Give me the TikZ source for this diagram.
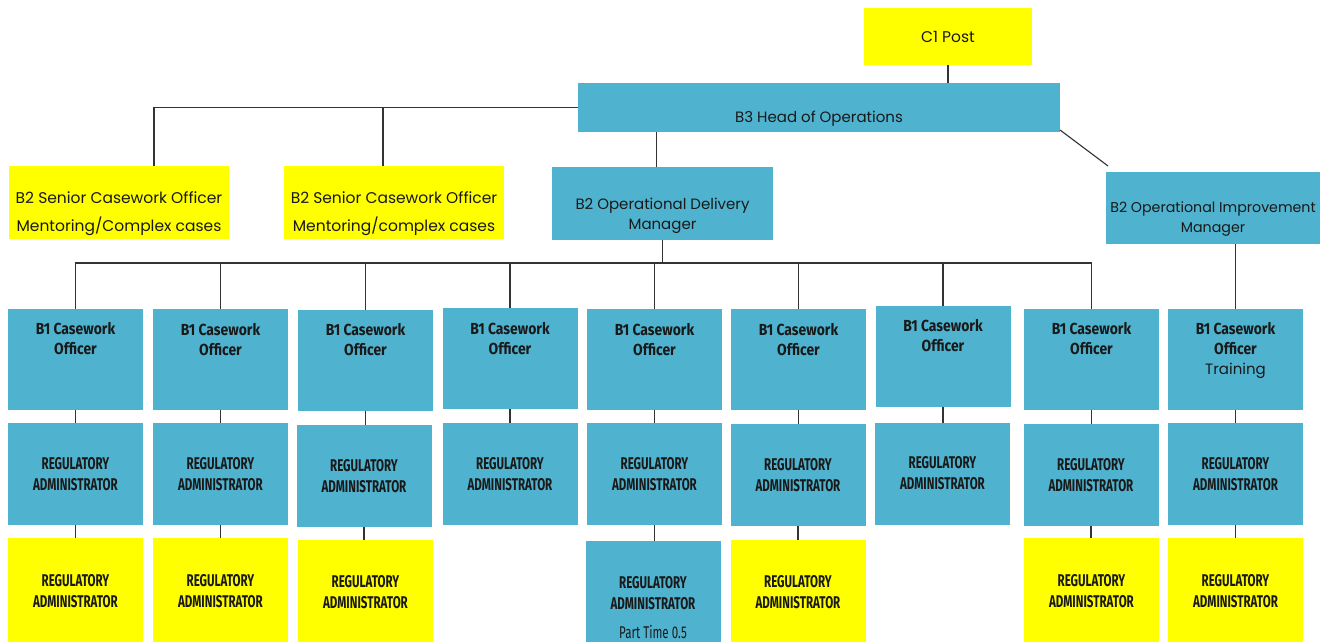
\documentclass[tikz,border=0pt]{standalone}
\usepackage{fontspec}
\setmainfont{Poppins}
\newfontfamily\narrowfont[FakeStretch=0.68]{Fira Sans}
\newfontfamily\cwfont[FakeStretch=0.87]{Fira Sans}
\usepackage{tikz}

\definecolor{boxblue}{HTML}{4FB3CF}
\definecolor{boxyellow}{HTML}{FFFF00}

% text set from the top of a box: width, height, gap, lines
\newcommand{\toptext}[4]{\parbox[c][#2][t]{#1}{\centering\vspace*{#3}#4\par}}

\tikzset{
	post/.style={inner sep=0pt, outer sep=0pt, text=black!90},
	bluepost/.style={post, fill=boxblue},
	yellowpost/.style={post, fill=boxyellow},
	lead/.style={font=\fontsize{15.5}{28}\selectfont},
	leadtwo/.style={font=\fontsize{15}{20}\selectfont},
	officer/.style={bluepost, font=\cwfont\bfseries\fontsize{16}{20}\selectfont},
	admin/.style={minimum width=135pt, minimum height=102pt, align=center, font=\narrowfont\bfseries\fontsize{17}{21}\selectfont},
	wire/.style={line width=1.1pt, draw=black!80},
}

\begin{document}
\begin{tikzpicture}[x=1pt, y=-1pt]
	\useasboundingbox (0,0) rectangle (1330,641);
	\fill[white] (0,0) rectangle (1330,641);
	
	%top posts
	\node[yellowpost, minimum width=168pt, minimum height=57pt, lead] (c1) at (948,36.5) {C1 Post};
	\node[bluepost, leadtwo] (hoo) at (819,107.5) {\toptext{482pt}{49pt}{28pt}{B3 Head of Operations}};
	
	%B2 posts
	\node[yellowpost, lead] (sco1) at (119,202.5) {\toptext{220pt}{73pt}{26pt}{B2 Senior Casework Officer\\Mentoring/Complex cases}};
	\node[yellowpost, lead] (sco2) at (394,202.5) {\toptext{220pt}{73pt}{26pt}{B2 Senior Casework Officer\\Mentoring/complex cases}};
	\node[bluepost, leadtwo] (odm) at (662.5,203.5) {\toptext{221pt}{73pt}{31pt}{B2 Operational Delivery\\Manager}};
	\node[bluepost, leadtwo, font=\fontsize{14.2}{20}\selectfont] (oim) at (1213,208) {\toptext{214pt}{72pt}{30pt}{B2 Operational Improvement\\Manager}};
	
	%B1 officers
	\node[officer] (cw1) at (75.5,359)  {\toptext{135pt}{101pt}{14pt}{B1 Casework\\Officer}};
	\node[officer] (cw2) at (220.5,359.5) {\toptext{135pt}{101pt}{14pt}{B1 Casework\\Officer}};
	\node[officer] (cw3) at (365.5,360) {\toptext{135pt}{101pt}{14pt}{B1 Casework\\Officer}};
	\node[officer] (cw4) at (510,358.5) {\toptext{135pt}{101pt}{14pt}{B1 Casework\\Officer}};
	\node[officer] (cw5) at (654.5,359.5) {\toptext{135pt}{101pt}{14pt}{B1 Casework\\Officer}};
	\node[officer] (cw6) at (798.5,359.5) {\toptext{135pt}{101pt}{14pt}{B1 Casework\\Officer}};
	\node[officer] (cw7) at (943,356)   {\toptext{135pt}{101pt}{14pt}{B1 Casework\\Officer}};
	\node[officer] (cw8) at (1091.5,359) {\toptext{135pt}{101pt}{14pt}{B1 Casework\\Officer}};
	\node[officer] (cw9) at (1235.5,359) {\toptext{135pt}{101pt}{14pt}{B1 Casework\\Officer\\{\rmfamily\mdseries\fontsize{15}{20}\selectfont Training}}};
	
	%first row of administrators
	\node[bluepost, admin] (ra1) at (75.5,474)  {REGULATORY\\ADMINISTRATOR};
	\node[bluepost, admin] (ra2) at (220.5,474) {REGULATORY\\ADMINISTRATOR};
	\node[bluepost, admin] (ra3) at (364,476)   {REGULATORY\\ADMINISTRATOR};
	\node[bluepost, admin] (ra4) at (510,474)   {REGULATORY\\ADMINISTRATOR};
	\node[bluepost, admin] (ra5) at (654.5,474) {REGULATORY\\ADMINISTRATOR};
	\node[bluepost, admin] (ra6) at (798,475)   {REGULATORY\\ADMINISTRATOR};
	\node[bluepost, admin] (ra7) at (942.5,473.5) {REGULATORY\\ADMINISTRATOR};
	\node[bluepost, admin] (ra8) at (1091,475)  {REGULATORY\\ADMINISTRATOR};
	\node[bluepost, admin] (ra9) at (1235.5,474) {REGULATORY\\ADMINISTRATOR};
	
	%second row of administrators
	\node[yellowpost, admin, minimum height=107pt] (rb1) at (75.5,591.5)  {REGULATORY\\ADMINISTRATOR};
	\node[yellowpost, admin, minimum height=107pt] (rb2) at (220.5,591.5) {REGULATORY\\ADMINISTRATOR};
	\node[yellowpost, admin, minimum height=105pt] (rb3) at (365.5,592.5) {REGULATORY\\ADMINISTRATOR};
	\node[bluepost, admin] (rb5) at (653,592) {\toptext{134pt}{102pt}{35pt}{REGULATORY\\ADMINISTRATOR\\[8pt]{\mdseries Part Time 0.5}}};
	\node[yellowpost, admin, minimum height=105pt] (rb6) at (798,592.5)   {REGULATORY\\ADMINISTRATOR};
	\node[yellowpost, admin, minimum height=107pt] (rb8) at (1091.5,591.5) {REGULATORY\\ADMINISTRATOR};
	\node[yellowpost, admin, minimum height=107pt] (rb9) at (1235.5,591.5) {REGULATORY\\ADMINISTRATOR};
	
	%lines
	\draw[wire] (c1.south) -- (c1.south |- hoo.north);							%c1--hoo
	\draw[wire] (hoo.west) -| ([xshift=35pt]sco1.north);						%hoo--sco1
	\draw[wire] ([xshift=-11pt]sco2.north) -- ([xshift=-11pt]sco2.north |- hoo.west);	%hoo--sco2
	\draw[wire] ([xshift=-6pt]odm.north) -- ([xshift=-6pt]odm.north |- hoo.south);	%hoo--odm
	\draw[wire] ([yshift=2pt]hoo.south east) -- ([xshift=2pt,yshift=6pt]oim.north west);	%hoo--oim
	\draw[wire] (cw9.north) -- (cw9.north |- oim.south);						%oim--cw9
	
	\path (odm.south) ++(0,23) coordinate (bus);
	\draw[wire] (odm.south) -- (bus);		%odm--bus
	\draw[wire] (bus) -| (cw1.north);		%bus--cw1
	\draw[wire] (bus) -| (cw2.north);		%bus--cw2
	\draw[wire] (bus) -| (cw3.north);		%bus--cw3
	\draw[wire] (bus) -| (cw4.north);		%bus--cw4
	\draw[wire] (bus) -| (cw5.north);		%bus--cw5
	\draw[wire] (bus) -| (cw6.north);		%bus--cw6
	\draw[wire] (bus) -| (cw7.north);		%bus--cw7
	\draw[wire] (bus) -| (cw8.north);		%bus--cw8
	
	\draw[wire] (cw1.south) -- (cw1.south |- ra1.north);	%cw1--ra1
	\draw[wire] (cw2.south) -- (cw2.south |- ra2.north);	%cw2--ra2
	\draw[wire] (cw3.south) -- (cw3.south |- ra3.north);	%cw3--ra3
	\draw[wire] (cw4.south) -- (cw4.south |- ra4.north);	%cw4--ra4
	\draw[wire] (cw5.south) -- (cw5.south |- ra5.north);	%cw5--ra5
	\draw[wire] (cw6.south) -- (cw6.south |- ra6.north);	%cw6--ra6
	\draw[wire] (cw7.south) -- (cw7.south |- ra7.north);	%cw7--ra7
	\draw[wire] (cw8.south) -- (cw8.south |- ra8.north);	%cw8--ra8
	\draw[wire] (cw9.south) -- (cw9.south |- ra9.north);	%cw9--ra9
	
	\draw[wire] (ra1.south) -- (ra1.south |- rb1.north);	%ra1--rb1
	\draw[wire] (ra2.south) -- (ra2.south |- rb2.north);	%ra2--rb2
	\draw[wire] (ra3.south) -- (ra3.south |- rb3.north);	%ra3--rb3
	\draw[wire] (ra5.south) -- (ra5.south |- rb5.north);	%ra5--rb5
	\draw[wire] (ra6.south) -- (ra6.south |- rb6.north);	%ra6--rb6
	\draw[wire] (ra8.south) -- (ra8.south |- rb8.north);	%ra8--rb8
	\draw[wire] (ra9.south) -- (ra9.south |- rb9.north);	%ra9--rb9
	
\end{tikzpicture}
\end{document}
